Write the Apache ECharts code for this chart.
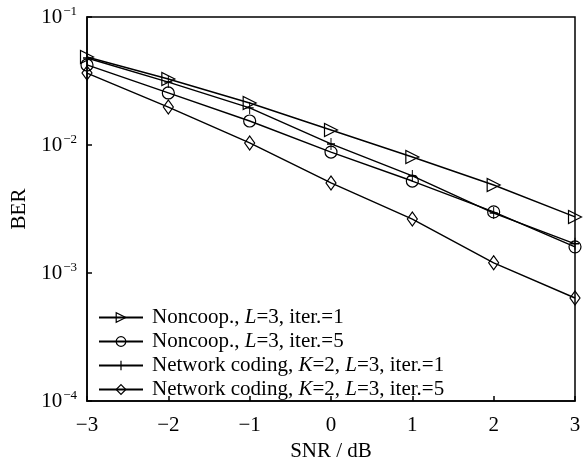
<!DOCTYPE html>
<html>
<head>
<meta charset="utf-8">
<script src="https://cdn.jsdelivr.net/npm/echarts@6/dist/echarts.min.js"></script>
<style>
  html, body { margin: 0; padding: 0; background: #fff; }
  #main { width: 583px; height: 460px; }
</style>
</head>
<body>
<div id="main"></div>
<script>
// values
var snr = [-3, -2, -1, 0, 1, 2, 3];
var noncoopIter1 = [0.0487, 0.0328, 0.0213, 0.0131, 0.00806, 0.00487, 0.00274];
var noncoopIter5 = [0.0422, 0.0255, 0.0154, 0.00881, 0.00523, 0.0030, 0.0016];
var ncIter1 = [0.0478, 0.031, 0.0195, 0.0102, 0.00573, 0.00294, 0.00169];
var ncIter5 = [0.0365, 0.0198, 0.01037, 0.00505, 0.00264, 0.0012, 0.000638];

var names = [
  'Noncoop., L=3, iter.=1',
  'Noncoop., L=3, iter.=5',
  'Network coding, K=2, L=3, iter.=1',
  'Network coding, K=2, L=3, iter.=5'
];
var legendRich = [
  '{n|Noncoop., }{i|L}{n|=3, iter.=1}',
  '{n|Noncoop., }{i|L}{n|=3, iter.=5}',
  '{n|Network coding, }{i|K}{n|=2, }{i|L}{n|=3, iter.=1}',
  '{n|Network coding, }{i|K}{n|=2, }{i|L}{n|=3, iter.=5}'
];

var font = 'Liberation Serif';
var hollow = { color: 'rgba(255,255,255,0)', borderColor: '#000', borderWidth: 1.2 };

function pairs(ys) {
  return snr.map(function (x, i) { return [x, ys[i]]; });
}

function mkSeries(name, ys, symbol, size, rotate) {
  return {
    name: name,
    type: 'line',
    data: pairs(ys),
    symbol: symbol,
    symbolSize: size,
    symbolRotate: rotate || 0,
    lineStyle: { color: '#000', width: 1.4 },
    itemStyle: hollow,
    emphasis: { disabled: true }
  };
}

var myChart = echarts.init(document.getElementById('main'));

var option = {
  animation: false,
  backgroundColor: '#fff',
  grid: {
    left: 87, right: 8, top: 17, bottom: 59,
    containLabel: false,
    outerBoundsMode: 'none',
    show: true, borderColor: '#000', borderWidth: 1.5
  },
  xAxis: {
    type: 'value',
    min: -3, max: 3, interval: 1,
    name: 'SNR / dB',
    nameLocation: 'middle',
    nameGap: 38,
    nameTextStyle: { fontFamily: font, fontSize: 21, color: '#000' },
    axisLine: { onZero: false, lineStyle: { color: '#000', width: 1.5 } },
    axisTick: { inside: true, length: 5, lineStyle: { color: '#000', width: 1.5 } },
    splitLine: { show: false },
    axisLabel: {
      fontFamily: font, fontSize: 21, color: '#000', margin: 14,
      formatter: function (v) { return String(v).replace('-', '\u2212'); }
    }
  },
  yAxis: {
    type: 'log',
    logBase: 10,
    min: 1e-4, max: 1e-1,
    name: 'BER',
    nameLocation: 'middle',
    nameGap: 56,
    nameTextStyle: { fontFamily: font, fontSize: 21, color: '#000' },
    axisLine: { onZero: false, lineStyle: { color: '#000', width: 1.5 } },
    axisTick: { inside: true, length: 5, lineStyle: { color: '#000', width: 1.5 } },
    minorTick: { show: false },
    splitLine: { show: false },
    axisLabel: {
      margin: 10,
      formatter: function (v) {
        var e = Math.round(Math.log10(v));
        return '{b|10}{s|' + String(e).replace('-', '\u2212') + '}';
      },
      rich: {
        b: { fontFamily: font, fontSize: 21, color: '#000' },
        s: { fontFamily: font, fontSize: 13, color: '#000', verticalAlign: 'top', padding: [0, 0, 10, 1] }
      }
    }
  },
  legend: {
    orient: 'vertical',
    left: 93,
    top: 302,
    itemWidth: 44,
    itemHeight: 12,
    itemGap: 3,
    data: names,
    itemStyle: hollow,
    formatter: function (name) { return legendRich[names.indexOf(name)]; },
    textStyle: {
      fontFamily: font, fontSize: 21, color: '#000', padding: [0, 0, 0, 4],
      rich: {
        n: { fontFamily: font, fontSize: 21, color: '#000', lineHeight: 22 },
        i: { fontFamily: font, fontSize: 21, color: '#000', fontStyle: 'italic', lineHeight: 22 }
      }
    }
  },
  series: [
    mkSeries(names[0], noncoopIter1, 'triangle', 13, -90),
    mkSeries(names[1], noncoopIter5, 'circle', 12),
    mkSeries(names[2], ncIter1, 'path://M5,0L5,12M1,6L9,6', [8, 12]),
    mkSeries(names[3], ncIter5, 'diamond', [10, 14])
  ]
};

myChart.setOption(option);
</script>
</body>
</html>
